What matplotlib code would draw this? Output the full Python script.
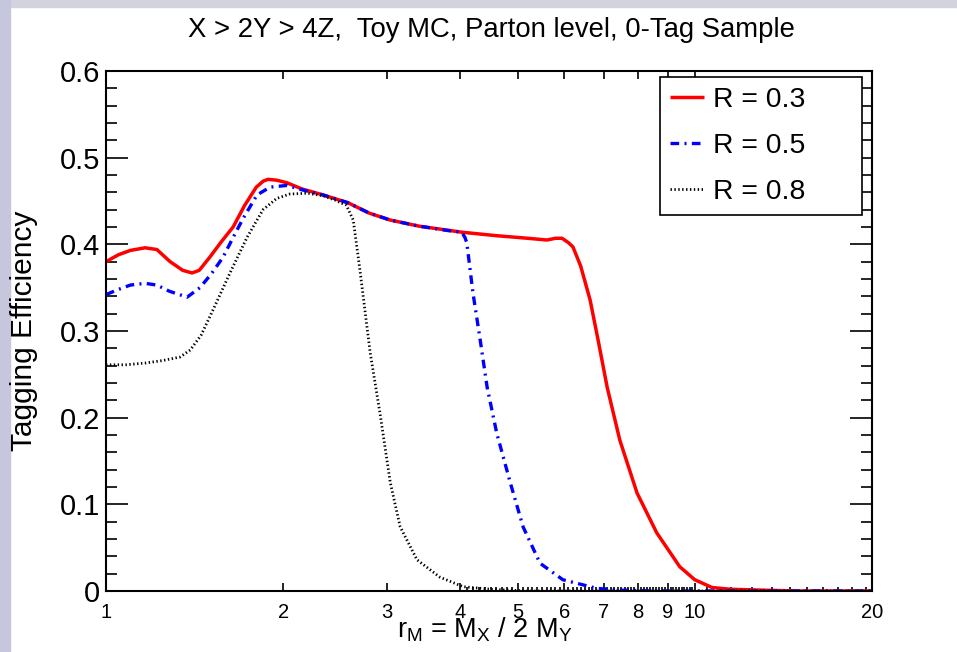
import matplotlib
matplotlib.use("Agg")
import matplotlib.pyplot as plt
from matplotlib.patches import Rectangle
from matplotlib.ticker import FixedLocator, NullFormatter

plt.rcParams['font.family'] = ['Liberation Sans', 'DejaVu Sans']
plt.rcParams['mathtext.fontset'] = 'custom'
plt.rcParams['mathtext.rm'] = 'Liberation Sans'
plt.rcParams['mathtext.it'] = 'Liberation Sans'

# data
x_r03 = [1.00, 1.05, 1.10, 1.165, 1.22, 1.285, 1.35, 1.40, 1.44, 1.50, 1.57, 1.644, 1.72,
         1.80, 1.85, 1.885, 1.95, 2.03, 2.15, 2.337, 2.576, 2.80, 3.04, 3.40, 4.02, 4.60,
         5.20, 5.61, 5.80, 5.95, 6.10, 6.21, 6.40, 6.64, 6.85, 7.10, 7.46, 7.98, 8.62,
         9.43, 10.0, 10.7, 11.5, 13.0, 15.0, 20.0]
y_r03 = [0.380, 0.388, 0.393, 0.396, 0.394, 0.380, 0.370, 0.367, 0.370, 0.385, 0.403, 0.420,
         0.445, 0.466, 0.473, 0.475, 0.474, 0.471, 0.464, 0.457, 0.448, 0.436, 0.428, 0.421,
         0.414, 0.410, 0.407, 0.405, 0.407, 0.407, 0.402, 0.397, 0.375, 0.336, 0.290, 0.235,
         0.174, 0.113, 0.067, 0.028, 0.013, 0.004, 0.002, 0.001, 0.0, 0.0]

x_r05 = [1.00, 1.05, 1.10, 1.165, 1.22, 1.28, 1.373, 1.444, 1.51, 1.58, 1.65, 1.71, 1.805,
         1.90, 2.03, 2.15, 2.337, 2.576, 2.80, 3.04, 3.40, 3.80, 4.02, 4.07, 4.10, 4.20,
         4.32, 4.44, 4.61, 4.86, 5.11, 5.46, 5.97, 6.82, 7.50, 8.50, 20.0]
y_r05 = [0.342, 0.348, 0.353, 0.355, 0.353, 0.346, 0.339, 0.350, 0.366, 0.385, 0.410, 0.430,
         0.457, 0.466, 0.468, 0.463, 0.457, 0.448, 0.436, 0.428, 0.421, 0.416, 0.414, 0.408,
         0.402, 0.344, 0.290, 0.235, 0.182, 0.125, 0.074, 0.032, 0.013, 0.003, 0.001, 0.0, 0.0]

x_r08 = [1.00, 1.08, 1.165, 1.25, 1.336, 1.39, 1.45, 1.519, 1.624, 1.736, 1.848, 1.95,
         2.05, 2.20, 2.337, 2.45, 2.56, 2.63, 2.70, 2.81, 2.92, 3.04, 3.16, 3.375, 3.69,
         4.04, 4.50, 5.20, 20.0]
y_r08 = [0.261, 0.261, 0.263, 0.266, 0.270, 0.278, 0.295, 0.324, 0.367, 0.408, 0.440, 0.453,
         0.458, 0.459, 0.456, 0.451, 0.445, 0.428, 0.370, 0.275, 0.205, 0.125, 0.074, 0.036,
         0.016, 0.005, 0.002, 0.0, 0.0]

xtick_vals = [1, 2, 3, 4, 5, 6, 7, 8, 9, 10, 20]
xtick_labels = ['1', '2', '3', '4', '5', '6', '7', '8', '9', '10', '20']
ytick_vals = [0, 0.1, 0.2, 0.3, 0.4, 0.5, 0.6]
ytick_labels = ['0', '0.1', '0.2', '0.3', '0.4', '0.5', '0.6']

fig = plt.figure(figsize=(9.57, 6.52), dpi=100)
W, H = 957, 652
# ROOT canvas frame strips
fig.patches.append(Rectangle((0, 1 - 7 / H), 1, 7 / H, transform=fig.transFigure,
                             color='#d3d3de', zorder=0))
fig.patches.append(Rectangle((0, 0), 10 / W, 1, transform=fig.transFigure,
                             color='#c6c7dc', zorder=0))

ax = fig.add_axes([106 / W, 1 - 591 / H, (872 - 106) / W, (591 - 71) / H])
ax.set_xscale('log')
ax.set_xlim(1, 20)
ax.set_ylim(0, 0.6)

ax.plot(x_r03, y_r03, color='#ff0000', lw=2.5, label='R = 0.3',
        solid_joinstyle='round', solid_capstyle='butt')
ax.plot(x_r05, y_r05, color='#0000ff', lw=2.4, linestyle=(0, (2.6, 1.6, 0.6, 1.6)),
        label='R = 0.5')
ax.plot(x_r08, y_r08, color='black', lw=2.0, linestyle=(0, (0.5, 0.9)), label='R = 0.8')

ax.xaxis.set_major_locator(FixedLocator(xtick_vals))
ax.set_xticklabels(xtick_labels)
minors = [4 + 0.1 * i for i in range(1, 60) if i % 10] + [10 + 0.5 * i for i in range(1, 20) if i % 2]
ax.xaxis.set_minor_locator(FixedLocator(minors))
ax.xaxis.set_minor_formatter(NullFormatter())
ax.set_yticks(ytick_vals)
ax.set_yticklabels(ytick_labels)
ax.yaxis.set_minor_locator(FixedLocator([i * 0.02 for i in range(31)]))

ax.tick_params(which='both', direction='in', top=True, right=True, width=1.2, color='black')
ax.tick_params(axis='x', which='major', length=6, labelsize=14.5, pad=9)
ax.tick_params(axis='x', which='minor', length=3, top=False)
ax.tick_params(axis='y', which='major', length=16, labelsize=21, pad=4)
ax.tick_params(axis='y', which='minor', length=8)
for s in ax.spines.values():
    s.set_linewidth(1.5)

fig.text(491 / W, 1 - 37 / H, 'X > 2Y > 4Z,  Toy MC, Parton level, 0-Tag Sample',
         ha='center', va='baseline', fontsize=19.8)
fig.text(485 / W, 1 - 638 / H, r'r$_{\rm M}$ = M$_{\rm X}$ / 2 M$_{\rm Y}$',
         ha='center', va='baseline', fontsize=19.5)
fig.text(24 / W, 1 - 331 / H, 'Tagging Efficiency', rotation=90,
         ha='center', va='center', fontsize=21.5)

leg = ax.legend(loc='upper left', bbox_to_anchor=(660 / W, 1 - 214 / H, 202 / W, 137 / H),
                bbox_transform=fig.transFigure, mode='expand', fontsize=20.4,
                frameon=True, fancybox=False, borderaxespad=0, handlelength=1.2,
                handletextpad=0.3, labelspacing=0.7, borderpad=0.36)
leg.get_frame().set_edgecolor('black')
leg.get_frame().set_linewidth(1.2)
leg.get_frame().set_alpha(1)

fig.savefig('out.png', dpi=100)
